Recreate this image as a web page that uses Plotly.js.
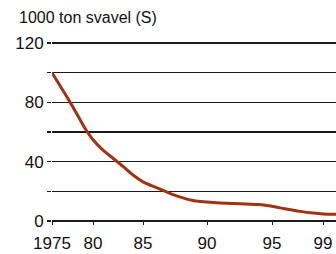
<!DOCTYPE html>
<html>
<head>
<meta charset="utf-8">
<script src="https://cdn.plot.ly/plotly-3.0.1.min.js"></script>
<style>
  html, body { margin: 0; padding: 0; background: #fff; }
  #chart { width: 336px; height: 254px; }
</style>
</head>
<body>
<div id="chart"></div>
<script>
// ---- data ----
const years = [1975, 1976, 1977, 1978, 1979, 1980, 1981, 1982, 1983, 1984,
               1985, 1986, 1987, 1988, 1989, 1990, 1991, 1992, 1993, 1994,
               1995, 1996, 1997, 1998, 1999, 2000];
const sulfur = [100, 91, 82, 72.5, 62.7, 54.8, 47.8, 42.3, 36.8, 31,
                26.4, 22.6, 19, 15.9, 13.6, 12.8, 12.2, 11.8, 11.4, 11.1,
                10, 8.2, 6.8, 5.5, 4.8, 4.5];
const xTickYears = [1975, 1980, 1985, 1990, 1995, 1999];
const xTickLabels = ['1975', '80', '85', '90', '95', '99'];
const yTickValues = [0, 20, 40, 60, 80, 100, 120];
const yTickLabels = ['0', '', '40', '', '80', '', '120'];
const unitLabel = '1000 ton svavel (S)';

// The original time axis is not uniform in years: anchor years -> axis units
const scaleYears = [1975, 1980, 1985, 1990, 1995, 1999, 2000];
const scaleUnits = [0, 41, 91, 155, 220, 271, 284];
function timeScale(y) {
  for (let i = 0; i < scaleYears.length - 1; i++) {
    if (y <= scaleYears[i + 1]) {
      const t = (y - scaleYears[i]) / (scaleYears[i + 1] - scaleYears[i]);
      return scaleUnits[i] + t * (scaleUnits[i + 1] - scaleUnits[i]);
    }
  }
  return scaleUnits[scaleUnits.length - 1];
}

const FONT = '"Liberation Sans", Arial, Helvetica, sans-serif';
const LINE = '#1a1a1a';

const trace = {
  x: years.map(timeScale),
  y: sulfur,
  type: 'scatter',
  mode: 'lines',
  line: { color: '#a03312', width: 3, shape: 'spline', smoothing: 0.8 },
  hoverinfo: 'skip'
};

const layout = {
  width: 336,
  height: 254,
  margin: { l: 52, r: 0, t: 41, b: 33, pad: 0 },
  paper_bgcolor: '#ffffff',
  plot_bgcolor: '#ffffff',
  showlegend: false,
  font: { family: FONT, size: 17, color: '#111' },
  xaxis: {
    range: [0, 284],
    tickvals: xTickYears.map(timeScale),
    ticktext: xTickLabels,
    ticks: 'outside',
    ticklen: 3,
    tickwidth: 1,
    tickcolor: LINE,
    ticklabelstandoff: 4,
    showgrid: false,
    zeroline: false,
    showline: false,
    tickfont: { family: FONT, size: 17, color: '#111' },
    fixedrange: true
  },
  yaxis: {
    range: [0, 121.35],
    tickvals: yTickValues,
    ticktext: yTickLabels,
    ticks: 'outside',
    ticklen: 4,
    tickwidth: 1.2,
    tickcolor: LINE,
    showgrid: true,
    gridcolor: LINE,
    gridwidth: 1.2,
    zeroline: true,
    zerolinecolor: LINE,
    zerolinewidth: 1.2,
    showline: false,
    tickfont: { family: FONT, size: 17, color: '#111' },
    fixedrange: true
  },
  annotations: [{
    text: unitLabel,
    xref: 'paper', yref: 'paper',
    x: (17 - 52) / 284, y: 1 + (41 - 17) / 180,
    xanchor: 'left', yanchor: 'middle',
    showarrow: false,
    font: { family: FONT, size: 16, color: '#111' }
  }]
};

Plotly.newPlot('chart', [trace], layout, { staticPlot: true, displayModeBar: false });
</script>
</body>
</html>
